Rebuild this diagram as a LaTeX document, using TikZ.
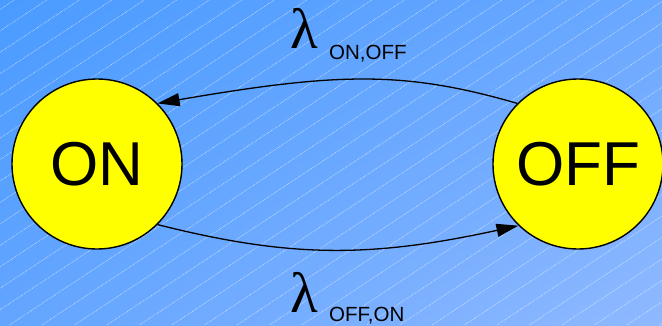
\documentclass[tikz,border=0pt]{standalone}
\usepackage{fontspec}
\setmainfont{Liberation Sans}
\newfontfamily\lamfont{Liberation Serif}
\usetikzlibrary{arrows.meta,shadings}
\definecolor{bgUL}{RGB}{74,155,255}
\definecolor{bgUR}{RGB}{106,168,255}
\definecolor{bgLL}{RGB}{99,165,255}
\definecolor{bgLR}{RGB}{143,185,255}
\definecolor{stateyellow}{RGB}{255,255,0}
\begin{document}
\begin{tikzpicture}[x=1pt,y=-1pt,
  state/.style={circle,draw=black,line width=1.4pt,fill=stateyellow,minimum size=170pt,inner sep=0pt,font=\fontsize{62}{62}\selectfont},
  trans/.style={line width=1.3pt,-{Triangle[length=22pt,width=13pt]}},
  hatch/.style={white,opacity=0.6,line width=0.6pt,dash pattern=on 0.8pt off 0.8pt},
  lam/.style={anchor=base west,inner sep=0pt,font=\lamfont\fontsize{57}{57}\selectfont},
  sub/.style={anchor=base west,inner sep=0pt,font=\fontsize{20.5}{20.5}\selectfont}]
\useasboundingbox (0,0) rectangle (662,325);
\shade[upper left=bgUL, upper right=bgUR, lower left=bgLL, lower right=bgLR] (0,0) rectangle (662,325);
\begin{scope}
\clip (0,0) rectangle (662,325);
\foreach \k in {0,...,36} \draw[hatch] ({14.3+32.5*\k},0) -- ({14.3+32.5*\k-492.4},325);
\end{scope}
\node[state] (ON) at (97,164) {ON};
\node[state] (OFF) at (578,164) {OFF};
\draw[trans] (OFF.135) .. controls (405,71) and (340,72) .. (ON.45);
\draw[trans] (ON.-45) .. controls (290,258) and (370,258) .. (OFF.-134);
\node[lam] (lamtop) at (290,48) {λ};
\node[sub] (subtop) at (329,59.3) {ON,OFF};
\node[lam] (lambot) at (290,312.3) {λ};
\node[sub] (subbot) at (329,321.7) {OFF,ON};
\end{tikzpicture}
\end{document}
